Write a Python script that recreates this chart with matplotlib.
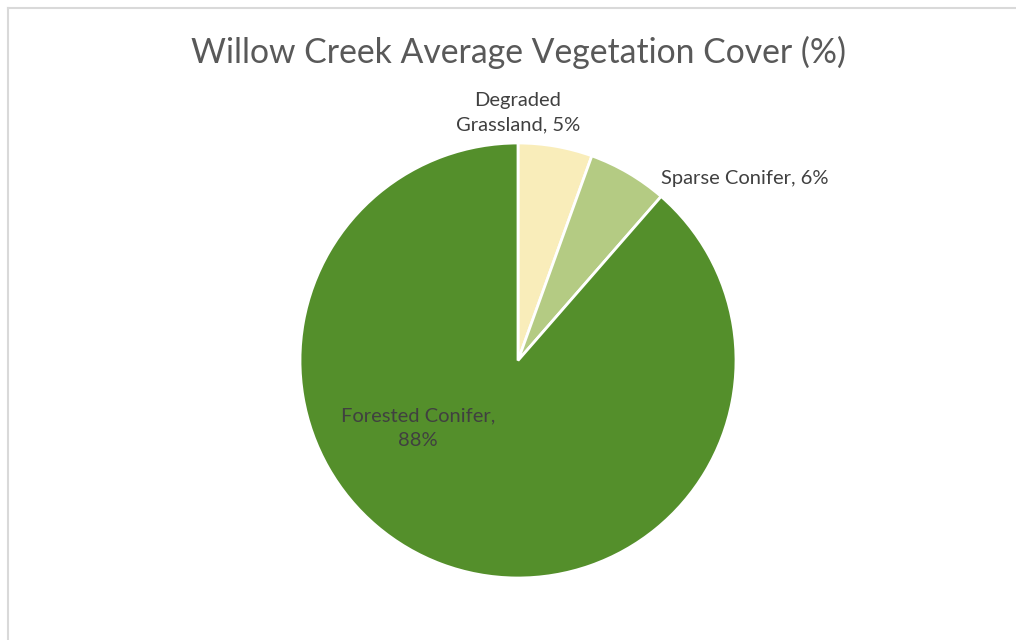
import matplotlib.pyplot as plt
from matplotlib.lines import Line2D

categories = ['Degraded\nGrassland', 'Sparse Conifer', 'Forested Conifer,\n']
values = [5.5, 5.9, 88.6]
pct_labels = ['5%', '6%', '88%']
colors = ['#F9EDBA', '#B4CB83', '#548F2B']

fig = plt.figure(figsize=(10.16, 6.4), dpi=100)
plt.rcParams['font.family'] = ['Lato', 'DejaVu Sans']

# chart border (only top and left visible in the crop)
fig.add_artist(Line2D([8 / 1016, 8 / 1016], [0, 1 - 7.5 / 640], color='#D9D9D9', lw=1.5, transform=fig.transFigure))
fig.add_artist(Line2D([8 / 1016, 1], [1 - 7.5 / 640, 1 - 7.5 / 640], color='#D9D9D9', lw=1.5, transform=fig.transFigure))

ax = fig.add_axes([300 / 1016, 62 / 640, 436 / 1016, 435 / 640])
ax.pie(values, colors=colors, startangle=90, counterclock=False, radius=1,
       wedgeprops=dict(edgecolor='white', linewidth=2))
ax.set_xlim(-1, 1)
ax.set_ylim(-1, 1)
ax.set_aspect('auto')
ax.axis('off')

txt = dict(color='#404040', fontsize=14.5, clip_on=False, linespacing=1.55)
ax.text(0, 1.14, f'{categories[0]}, {pct_labels[0]}', ha='center', va='center', **txt)
ax.text(0.656, 0.839, f'{categories[1]}, {pct_labels[1]}', ha='left', va='center', **txt)
ax.text(-0.459, -0.31, f'{categories[2]}{pct_labels[2]}', ha='center', va='center', **txt)

fig.text(0.51, 1 - 52 / 640, 'Willow Creek Average Vegetation Cover (%)', ha='center', va='center',
         color='#595959', fontsize=24.3)

fig.savefig('out.png', dpi=100)
